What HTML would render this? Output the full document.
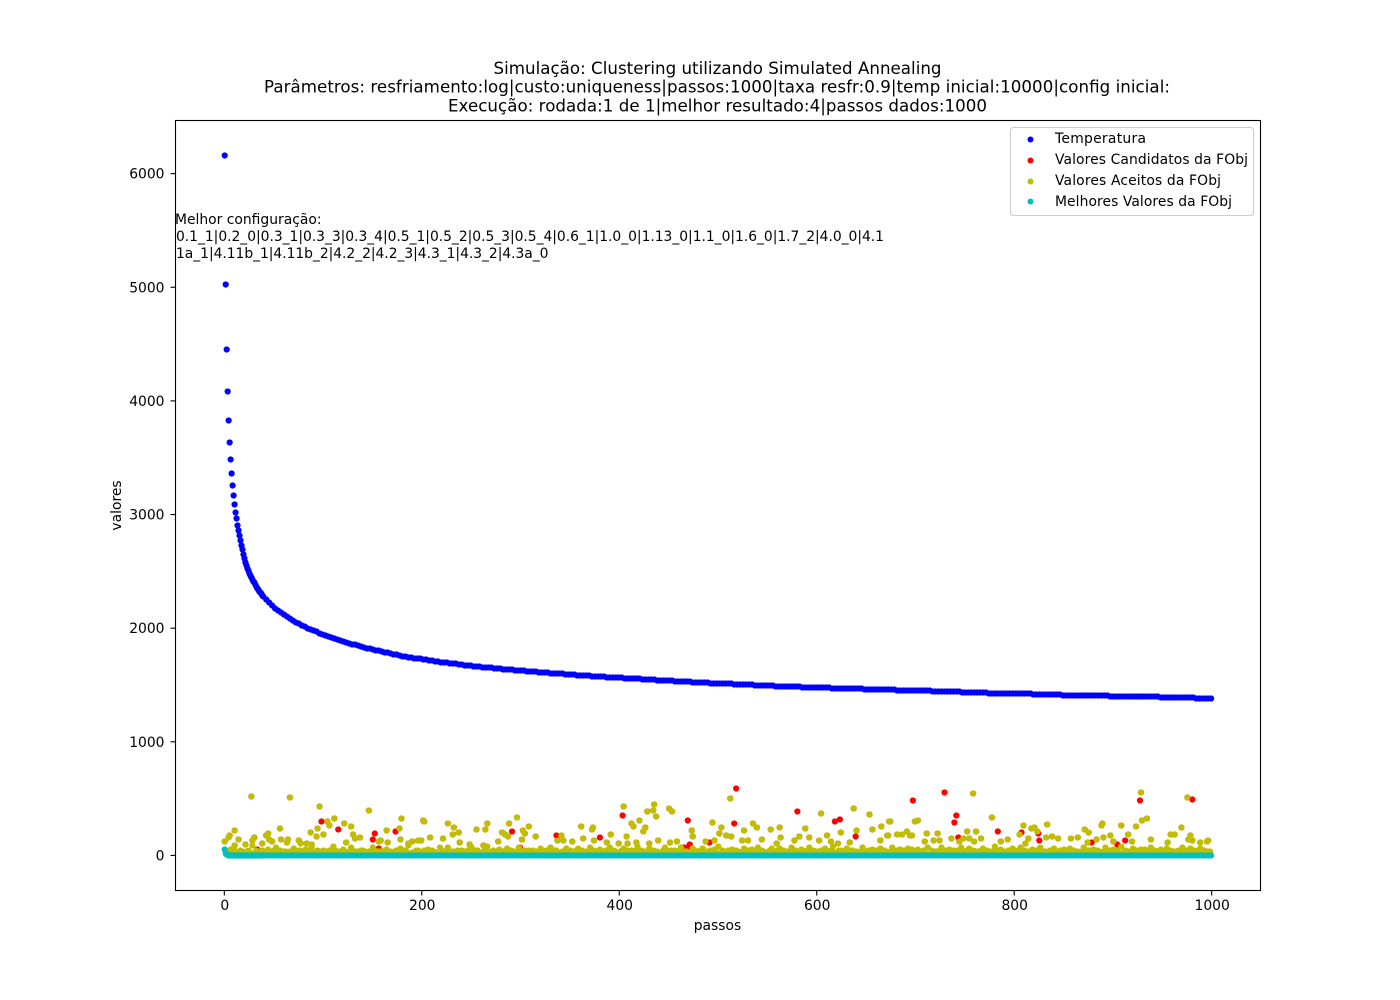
<!DOCTYPE html>
<html lang="pt">
<head>
<meta charset="utf-8">
<title>Simulação: Clustering utilizando Simulated Annealing</title>
<style>
html,body{margin:0;padding:0;background:#fff;}
svg{display:block;font-family:"DejaVu Sans",sans-serif;fill:#000;}
text{white-space:pre;}
</style>
</head>
<body>
<svg id="chart" xmlns="http://www.w3.org/2000/svg" width="1400" height="1000" viewBox="0 0 1400 1000">
  <rect x="0" y="0" width="1400" height="1000" fill="#fff"/>
  <g font-size="16.67" text-anchor="middle">
    <text x="717.5" y="74" textLength="448">Simulação: Clustering utilizando Simulated Annealing</text>
    <text x="717" y="92.5" textLength="906">Parâmetros: resfriamento:log|custo:uniqueness|passos:1000|taxa resfr:0.9|temp inicial:10000|config inicial:</text>
    <text x="717.5" y="111.5" textLength="539">Execução: rodada:1 de 1|melhor resultado:4|passos dados:1000</text>
  </g>
  <g id="marks"></g>
  <g id="ticks"></g>
  <rect x="175.5" y="120.5" width="1085" height="770" fill="none" stroke="#000" stroke-width="1.1"/>
  <g font-size="13.89">
    <text x="175" y="224">Melhor configuração:</text>
    <text x="176" y="241" textLength="708">0.1_1|0.2_0|0.3_1|0.3_3|0.3_4|0.5_1|0.5_2|0.5_3|0.5_4|0.6_1|1.0_0|1.13_0|1.1_0|1.6_0|1.7_2|4.0_0|4.1</text>
    <text x="176" y="258" textLength="372.5">1a_1|4.11b_1|4.11b_2|4.2_2|4.2_3|4.3_1|4.3_2|4.3a_0</text>
  </g>
  <text x="717.5" y="930" font-size="13.89" text-anchor="middle">passos</text>
  <text transform="translate(121,505.5) rotate(-90)" font-size="13.89" text-anchor="middle">valores</text>
  <g>
    <rect x="1010.5" y="127.5" width="243" height="88" rx="3" ry="3" fill="#fff" fill-opacity="0.8" stroke="#ccc" stroke-width="1.1"/>
    <g>
      <circle cx="1030.5" cy="139.5" r="3" fill="#0000ff"/>
      <text x="1055" y="143" font-size="13.89" textLength="91">Temperatura</text>
    </g>
    <g>
      <circle cx="1030.5" cy="160.5" r="3" fill="#ff0000"/>
      <text x="1055" y="164" font-size="13.89" textLength="193">Valores Candidatos da FObj</text>
    </g>
    <g>
      <circle cx="1030.5" cy="181.5" r="3" fill="#bfbf00"/>
      <text x="1055" y="185" font-size="13.89" textLength="166">Valores Aceitos da FObj</text>
    </g>
    <g>
      <circle cx="1030.5" cy="201.5" r="3" fill="#00bfbf"/>
      <text x="1055" y="206" font-size="13.89" textLength="177">Melhores Valores da FObj</text>
    </g>
  </g>
</svg>
<script>
const xTickLabels = [0, 200, 400, 600, 800, 1000];
const yTickLabels = [0, 1000, 2000, 3000, 4000, 5000, 6000];

// Temperature: every step to 39, then every third step up to 999.
const temperatureValues = [
6161,5027,4455,4085,3830,3637,3487,3364,3259,3171,3088,3017,2965,2903,2862,2818,2774,2730,2690,2650,
2612,2580,2550,2525,2505,2485,2466,2448,2431,2414,2398,2382,2366,2352,2339,2326,2314,2302,2291,2280,
2250,2224,2200,2176,2155,2136,2118,2100,2084,2069,2054,2040,2026,2013,2001,1989,1977,1967,1957,1947,
1937,1928,1919,1910,1901,1892,1884,1876,1868,1860,1853,1846,1839,1832,1825,1818,1812,1806,1800,1794,
1788,1782,1776,1771,1766,1761,1755,1750,1745,1741,1737,1733,1729,1725,1721,1717,1713,1709,1705,1702,
1698,1695,1692,1688,1685,1682,1679,1676,1673,1670,1667,1664,1661,1658,1656,1653,1650,1648,1645,1643,
1640,1638,1635,1633,1630,1628,1626,1624,1621,1619,1617,1615,1613,1611,1609,1607,1605,1603,1601,1599,
1597,1595,1593,1591,1589,1587,1586,1584,1582,1580,1578,1577,1575,1573,1572,1570,1568,1567,1565,1564,
1562,1560,1559,1557,1556,1554,1553,1551,1550,1548,1547,1545,1544,1542,1541,1540,1537,1536,1534,1533,
1531,1530,1528,1527,1526,1524,1523,1521,1520,1518,1517,1516,1515,1514,1513,1512,1510,1509,1508,1507,
1506,1505,1504,1503,1501,1500,1499,1498,1496,1495,1493,1492,1491,1490,1489,1488,1487,1486,1485,1484,
1483,1482,1481,1480,1479,1478,1477,1477,1476,1475,1474,1473,1472,1472,1471,1470,1469,1468,1468,1467,
1466,1465,1464,1464,1463,1462,1461,1461,1460,1459,1458,1458,1457,1456,1455,1455,1454,1453,1452,1452,
1451,1450,1449,1449,1448,1447,1446,1446,1445,1444,1443,1442,1441,1440,1439,1438,1437,1436,1435,1434,
1433,1432,1431,1430,1429,1428,1428,1427,1426,1426,1425,1424,1424,1423,1423,1422,1422,1421,1421,1420,
1419,1419,1418,1417,1417,1416,1415,1414,1413,1412,1412,1411,1411,1410,1410,1409,1408,1408,1407,1407,
1406,1406,1405,1405,1404,1403,1403,1402,1402,1401,1401,1400,1400,1399,1399,1398,1397,1397,1396,1396,
1395,1395,1394,1394,1393,1392,1392,1391,1390,1389,1389,1388,1387,1386,1385,1385,1384,1383,1383,1382
];
const temperatureSteps = [];
for (let n = 0; n < temperatureValues.length; n++) temperatureSteps.push(n < 40 ? n : 42 + 3 * (n - 40));

// Best objective value: first steps, then a value shared by the temperature step grid.
const bestValues = [49,21,10,6,4,4,4,4,4,4,4,4,4,4,4,4,4,4,4,4,4,4,4,4,4,4,4,4,4,4,4,4,4,4,4,4,4,4,4,4,
4,4,4,4,4,4,4,4,4,4,4,4,4,4,4,4,4,4,4,4,4,4,4,4,4,4,4,4,4,4,4,4,4,4,4,4,4,4,4,4,
4,4,4,4,4,4,4,4,4,4,4,4,4,4,4,4,4,4,4,4,4,4,4,4,4,4,4,4,4,4,4,4,4,4,4,4,4,4,4,4,
4,4,4,4,4,4,4,4,4,4,4,4,4,4,4,4,4,4,4,4,4,4,4,4,4,4,4,4,4,4,4,4,4,4,4,4,4,4,4,4,
4,4,4,4,4,4,4,4,4,4,4,4,4,4,4,4,4,4,4,4,4,4,4,4,4,4,4,4,4,4,4,4,4,4,4,4,4,4,4,4,
4,4,4,4,4,4,4,4,4,4,4,4,4,4,4,4,4,4,4,4,4,4,4,4,4,4,4,4,4,4,4,4,4,4,4,4,4,4,4,4,
4,4,4,4,4,4,4,4,4,4,4,4,4,4,4,4,4,4,4,4,4,4,4,4,4,4,4,4,4,4,4,4,4,4,4,4,4,4,4,4,
4,4,4,4,4,4,4,4,4,4,4,4,4,4,4,4,4,4,4,4,4,4,4,4,4,4,4,4,4,4,4,4,4,4,4,4,4,4,4,4,
4,4,4,4,4,4,4,4,4,4,4,4,4,4,4,4,4,4,4,4,4,4,4,4,4,4,4,4,4,4,4,4,4,4,4,4,4,4,4,4];

// Accepted values that stand out above the dense band.
const acceptedPeakSteps = [27,66,96,146,10,5,4,0,14,104,106,111,121,128,94,87,93,100,56,44,42,30,28,21,10,38,45,48,57,64,63,75,77,83,88,130,132,137,123,164,177,179,178,201,202,226,232,231,237,208,221,199,196,190,186,156,158,165,238,255,264,266,288,296,281,284,287,277,302,304,301,308,248,262,
315,361,373,372,341,343,337,352,363,374,391,387,404,407,399,408,412,414,420,426,424,428,434,435,437,450,453,417,430,439,451,458,473,474,487,496,494,503,501,508,513,512,524,530,526,535,539,544,553,562,563,577,582,588,592,559,604,610,602,614,621,624,633,637,640,653,656,665,673,671,664,
674,672,681,686,691,694,696,711,722,699,702,709,718,724,736,752,761,758,766,777,748,744,754,759,786,793,805,809,814,811,817,820,823,833,832,838,844,857,864,871,875,874,883,888,889,890,897,900,908,915,919,923,929,934,938,928,969,958,962,955,975,978,976,980,988,996,995];
const acceptedPeakValues = [520,512,432,397,221,174,160,125,142,300,265,327,283,257,239,204,169,186,239,195,177,160,133,98,90,107,142,125,142,142,116,133,107,107,98,186,151,160,116,221,239,327,142,309,297,283,248,186,204,160,151,133,133,125,107,125,133,116,116,230,230,283,283,336,204,186,169,125,221,195,142,257,98,90,
169,257,248,230,177,133,133,125,151,133,186,116,432,169,107,107,283,257,309,248,213,388,397,450,344,415,388,116,107,133,116,125,221,169,125,133,292,248,195,177,169,503,133,133,221,283,248,142,230,248,160,133,169,239,160,107,371,177,133,125,107,204,116,415,221,362,230,257,300,177,133,
300,177,186,186,213,177,177,195,195,300,309,125,133,133,151,213,213,547,151,336,151,125,151,125,125,142,186,265,151,107,239,248,213,274,160,169,151,151,160,230,204,116,142,265,283,160,177,125,265,186,125,257,309,327,142,556,248,186,186,116,512,177,142,133,116,133,125];

// Accepted values in the dense band, one per second step starting at step 4.
const acceptedBandValues = [
18,52,31,46,24,9,47,38,15,38,41,27,84,12,44,37,21,42,35,8,
49,36,19,41,72,26,45,13,34,33,6,39,29,61,46,16,43,37,10,50,
23,42,68,30,14,43,35,20,48,36,7,46,28,75,40,11,32,25,53,38,
17,34,66,41,9,37,22,42,47,31,12,38,26,70,45,19,39,35,8,44,
52,24,39,14,34,47,28,65,10,40,33,88,21,30,16,43,41,27,6,45,
37,55,18,48,36,30,11,69,41,23,37,73,13,36,38,25,42,8,44,34,
20,41,32,67,15,46,40,27,10,36,38,76,22,39,45,17,34,50,29,7,
43,62,24,42,12,33,35,69,19,37,48,26,46,9,40,37,31,14,64,41,
22,40,36,74,11,45,43,28,16,35,39,62,20,44,33,8,40,58,25,43,
13,39,30,71,18,47,37,6,55,38,23,42,34,66,10,44,36,27,15,43,
59,21,40,9,41,32,48,77,17,46,24,33,12,63,36,41,19,38,28,7,
45,68,41,14,44,30,40,22,37,72,11,38,35,25,16,57,43,33,8,46,
61,20,39,13,40,35,49,26,75,10,42,37,18,42,29,56,6,45,32,23,
37,65,15,44,31,52,9,38,70,21,40,34,27,12,48,59,34,17,40,63,
24,44,7,39,36,73,19,46,30,11,55,41,31,26,67,14,47,33,36,8,
43,22,58,38,16,40,78,28,10,45,41,20,35,64,13,47,42,25,38,6,
39,69,31,18,43,37,54,12,42,27,60,9,43,35,23,34,72,15,45,29,
50,11,46,39,62,21,49,7,38,56,26,36,44,17,74,10,41,30,37,24,
41,66,13,46,33,53,19,44,8,41,28,70,38,15,43,57,22,47,35,39,
10,48,63,25,42,16,36,31,76,12,40,52,20,37,6,42,27,59,45,14,
44,68,23,40,9,38,32,55,18,47,43,73,11,36,34,26,48,7,61,30,
21,40,15,51,39,42,65,13,46,28,37,19,34,71,8,45,41,24,56,16,
43,33,10,39,67,22,48,37,50,12,44,27,75,18,43,6,36,31,60,25,
42,14,54,35,49,20,47,69,9,41,29,38,52,16,41,64,11,43,26,38,
7,46,34,72,22,48,13,57,30,42,18,40,65,24,42,10,35,36
];
const acceptedBandSteps = [];
for (let n = 0; n < acceptedBandValues.length; n++) acceptedBandSteps.push(4 + 2 * n);

// Candidates that were rejected (accepted ones are also candidates and are drawn below them).
const rejectedSteps = [98,115,152,150,173,291,33,156,299,336,380,403,469,465,470,471,491,516,518,580,618,623,639,697,729,741,739,743,783,807,824,825,878,904,912,927,980];
const rejectedValues = [300,230,195,142,213,213,54,63,72,177,160,353,309,72,81,98,116,283,591,388,300,318,169,485,556,353,292,160,213,204,195,133,116,98,133,485,494];

const NS = 'http://www.w3.org/2000/svg';
const plotLeft = 175, plotRight = 1260, plotTop = 120, plotBottom = 890;
const xMin = -49.95, xMax = 1048.95, yMin = -304, yMax = 6472;
const markerRadius = 3.1;
function xScale(v) { return plotLeft + (v - xMin) / (xMax - xMin) * (plotRight - plotLeft); }
function yScale(v) { return plotBottom - (v - yMin) / (yMax - yMin) * (plotBottom - plotTop); }
function snap(p) { return Math.round(p - 0.5) + 0.5; }

const marks = document.getElementById('marks');
const ticks = document.getElementById('ticks');

function drawPoint(step, value, color, parent) {
  const c = document.createElementNS(NS, 'circle');
  c.setAttribute('cx', (xScale(step) + 0.4).toFixed(2));
  c.setAttribute('cy', snap(yScale(value)));
  c.setAttribute('r', markerRadius);
  c.setAttribute('fill', color);
  parent.appendChild(c);
  return c;
}

const temperatureGroup = document.createElementNS(NS, 'g');


marks.appendChild(temperatureGroup);
temperatureValues.forEach(function (v, n) {
  const el = drawPoint(temperatureSteps[n], v, '#0000ff', temperatureGroup);
  
  
});

const candidateGroup = document.createElementNS(NS, 'g');


marks.appendChild(candidateGroup);
rejectedValues.forEach(function (v, n) {
  const el = drawPoint(rejectedSteps[n], v, '#ff0000', candidateGroup);
  
  
});
acceptedPeakValues.forEach(function (v, n) {
  const el = drawPoint(acceptedPeakSteps[n], v, '#ff0000', candidateGroup);
  
  
});

const acceptedGroup = document.createElementNS(NS, 'g');


marks.appendChild(acceptedGroup);
acceptedBandValues.forEach(function (v, n) {
  const el = drawPoint(acceptedBandSteps[n], v, '#bfbf00', acceptedGroup);
  
  
});
acceptedPeakValues.forEach(function (v, n) {
  const el = drawPoint(acceptedPeakSteps[n], v, '#bfbf00', acceptedGroup);
  
  
});

const bestGroup = document.createElementNS(NS, 'g');


marks.appendChild(bestGroup);
bestValues.forEach(function (v, n) {
  const el = drawPoint(temperatureSteps[n], v, '#00bfbf', bestGroup);
  
  
});

xTickLabels.forEach(function (v) {
  const px = xScale(v);
  const line = document.createElementNS(NS, 'line');
  
  
  line.setAttribute('x1', px); line.setAttribute('x2', px);
  line.setAttribute('y1', plotBottom + 0.5); line.setAttribute('y2', plotBottom + 5.5);
  line.setAttribute('stroke', '#000'); line.setAttribute('stroke-width', 1.1);
  ticks.appendChild(line);
  const t = document.createElementNS(NS, 'text');
  
  
  t.setAttribute('x', px + 0.5); t.setAttribute('y', 910);
  t.setAttribute('font-size', 13.89); t.setAttribute('text-anchor', 'middle');
  t.textContent = String(v);
  ticks.appendChild(t);
});
yTickLabels.forEach(function (v) {
  const py = yScale(v);
  const line = document.createElementNS(NS, 'line');
  
  
  line.setAttribute('y1', py); line.setAttribute('y2', py);
  line.setAttribute('x1', plotLeft + 0.5); line.setAttribute('x2', plotLeft - 4.5);
  line.setAttribute('stroke', '#000'); line.setAttribute('stroke-width', 1.1);
  ticks.appendChild(line);
  const t = document.createElementNS(NS, 'text');
  
  
  t.setAttribute('x', 164.5); t.setAttribute('y', py + 5);
  t.setAttribute('font-size', 13.89); t.setAttribute('text-anchor', 'end');
  t.textContent = String(v);
  ticks.appendChild(t);
});
</script>
</body>
</html>
